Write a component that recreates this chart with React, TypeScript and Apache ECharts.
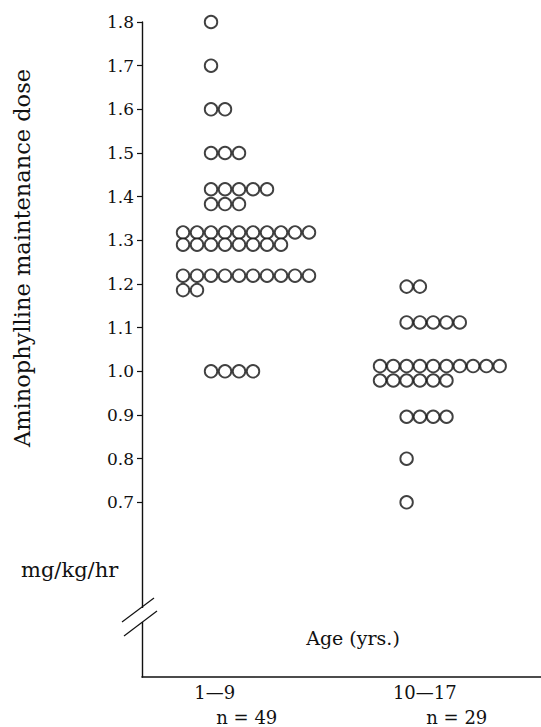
import React, { useEffect, useRef } from "react";
import * as echarts from "echarts";

// ---- data ----
const groupLabels = ["1—9", "10—17"];
const groupN = [49, 29];
const yTickValues = [0.7, 0.8, 0.9, 1.0, 1.1, 1.2, 1.3, 1.4, 1.5, 1.6, 1.7, 1.8];

// Age 1–9: dose rows (mg/kg/hr) and number of patients per row
const group1Doses = [1.8, 1.7, 1.6, 1.5, 1.417, 1.383, 1.318, 1.29, 1.219, 1.186, 1.0];
const group1Counts = [1, 1, 2, 3, 5, 3, 10, 8, 10, 2, 4];
// Age 10–17
const group2Doses = [1.194, 1.112, 1.012, 0.979, 0.896, 0.8, 0.7];
const group2Counts = [2, 5, 10, 6, 4, 1, 1];

// ---- layout (not data) ----
const group1StartCol = [2, 2, 2, 2, 2, 2, 0, 0, 0, 0, 2];
const group2StartCol = [2, 2, 0, 0, 2, 2, 2];
const X_MAX = 28.5;
const groupBase = [2.93, 17.0];
const groupStep = [1.0, 0.95];
const groupLabelX = [5.2, 20.2];

const FONT = '"DejaVu Serif", "Liberation Serif", serif';
const INK = "#111";

function buildDots(doses: number[], counts: number[], starts: number[], base: number, step: number) {
  const pts: number[][] = [];
  doses.forEach((d, r) => {
    for (let i = 0; i < counts[r]; i++) pts.push([base + (starts[r] + i) * step, d]);
  });
  return pts;
}

export default function App() {
  const ref = useRef<HTMLDivElement>(null);
  useEffect(() => {
    if (!ref.current) return;
    const chart = echarts.init(ref.current, undefined, { renderer: "svg" });
    const dotStyle = {
      symbol: "circle",
      symbolSize: 12.5,
      itemStyle: { color: "#fff", borderColor: INK, borderWidth: 1.9 },
    };
    chart.setOption({
      animation: false,
      backgroundColor: "#fff",
      grid: { left: 142, right: 0, top: 22, bottom: 50, containLabel: false },
      xAxis: {
        type: "value",
        min: 0,
        max: X_MAX,
        splitLine: { show: false },
        axisTick: { show: false },
        axisLine: { show: true, onZero: false, lineStyle: { color: INK, width: 1.6 } },
        axisLabel: {
          customValues: groupLabelX,
          margin: 3,
          formatter: (v: number) => {
            const i = Math.abs(v - groupLabelX[0]) < Math.abs(v - groupLabelX[1]) ? 0 : 1;
            return `{g|${groupLabels[i]}}\n{n|n = ${groupN[i]}}`;
          },
          rich: {
            g: { fontFamily: FONT, fontSize: 18, color: INK, lineHeight: 25 },
            n: { fontFamily: FONT, fontSize: 18, color: INK, lineHeight: 25, padding: [0, 0, 0, 64] },
          },
        },
      },
      yAxis: {
        type: "value",
        min: 0.3,
        max: 1.8,
        splitLine: { show: false },
        axisLine: { show: true, lineStyle: { color: INK, width: 1.4 } },
        axisTick: { show: true, customValues: yTickValues, length: 5, lineStyle: { color: INK, width: 1.2 } },
        axisLabel: {
          customValues: yTickValues,
          margin: 8,
          fontFamily: FONT,
          fontSize: 17,
          color: INK,
          formatter: (v: number) => v.toFixed(1),
        },
      },
      series: [
        { type: "scatter", name: groupLabels[0], data: buildDots(group1Doses, group1Counts, group1StartCol, groupBase[0], groupStep[0]), ...dotStyle },
        { type: "scatter", name: groupLabels[1], data: buildDots(group2Doses, group2Counts, group2StartCol, groupBase[1], groupStep[1]), ...dotStyle },
      ],
      graphic: [
        {
          type: "text",
          x: 22,
          y: 258,
          rotation: Math.PI / 2,
          style: { text: "Aminophylline maintenance dose", font: `22.5px ${FONT}`, fill: INK, align: "center", verticalAlign: "middle" },
        },
        {
          type: "text",
          x: 21,
          y: 570,
          style: { text: "mg/kg/hr", font: `21px ${FONT}`, fill: INK, align: "left", verticalAlign: "middle" },
        },
        {
          type: "text",
          x: 353,
          y: 638,
          style: { text: "Age (yrs.)", font: `19px ${FONT}`, fill: INK, align: "center", verticalAlign: "middle" },
        },
        { type: "rect", shape: { x: 138, y: 608, width: 8, height: 14 }, style: { fill: "#fff" }, z: 100 },
        { type: "line", shape: { x1: 122, y1: 622, x2: 154, y2: 598 }, style: { stroke: INK, lineWidth: 1.2 }, z: 101 },
        { type: "line", shape: { x1: 124, y1: 636, x2: 157, y2: 611 }, style: { stroke: INK, lineWidth: 1.2 }, z: 101 },
      ],
    });
    return () => chart.dispose();
  }, []);
  return <div ref={ref} style={{ position: "fixed", left: 0, top: 0, width: 541, height: 727 }} />;
}
